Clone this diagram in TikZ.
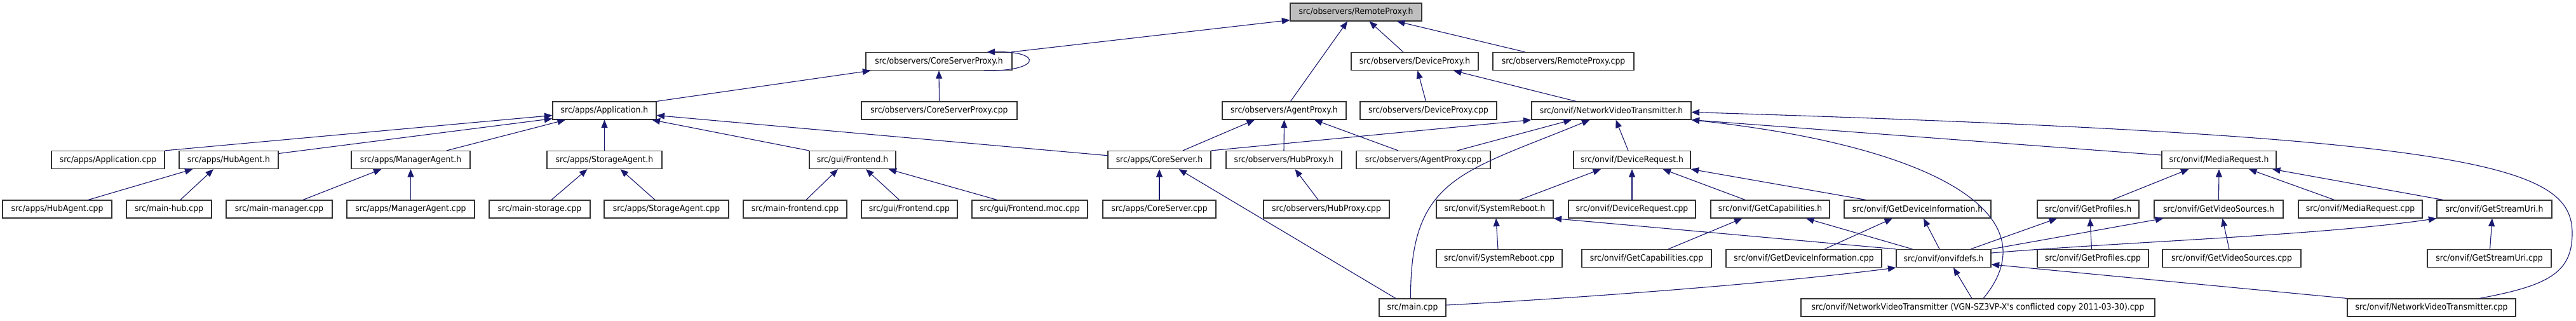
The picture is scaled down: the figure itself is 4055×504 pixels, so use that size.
\documentclass[tikz,border=0pt]{standalone}
\usepackage{fontspec}
\setmainfont{DejaVu Sans}[FakeStretch=0.92]
\usetikzlibrary{arrows.meta}
\definecolor{navy}{HTML}{191970}
\definecolor{boxgray}{HTML}{BFBFBF}
\begin{document}
\begin{tikzpicture}[x=1pt,y=1pt,
  box/.style={draw=black!80, line width=1.2pt, fill=white, minimum height=28pt, inner sep=0pt, font=\fontsize{13.5}{15}\selectfont},
  e/.style={draw=navy, line width=1.1pt, {Triangle[length=12.5pt,width=10pt]}-}]
\fill[white] (0,0) rectangle (4055,-504);
\useasboundingbox (0,0) rectangle (4055,-504);
% row 1
\node[box, fill=boxgray, minimum width=207pt] (remote) at (2134.5,-19) {src/observers/RemoteProxy.h};
% row 2
\node[box, minimum width=230pt] (csph) at (1478,-96.5) {src/observers/CoreServerProxy.h};
\node[box, minimum width=200pt] (devph) at (2227,-96.5) {src/observers/DeviceProxy.h};
\node[box, minimum width=222pt] (remcpp) at (2461,-96.5) {src/observers/RemoteProxy.cpp};
% row 3
\node[box, minimum width=163pt] (apph) at (951.5,-174) {src/apps/Application.h};
\node[box, minimum width=245pt] (cspcpp) at (1478.5,-174) {src/observers/CoreServerProxy.cpp};
\node[box, minimum width=195pt] (agph) at (2021.5,-174) {src/observers/AgentProxy.h};
\node[box, minimum width=215pt] (devpcpp) at (2248.5,-174) {src/observers/DeviceProxy.cpp};
\node[box, minimum width=251pt] (nvth) at (2536.5,-174) {src/onvif/NetworkVideoTransmitter.h};
% row 4
\node[box, minimum width=178pt] (appcpp) at (170,-251.5) {src/apps/Application.cpp};
\node[box, minimum width=156pt] (hubah) at (360,-251.5) {src/apps/HubAgent.h};
\node[box, minimum width=187pt] (mgrah) at (646.5,-251.5) {src/apps/ManagerAgent.h};
\node[box, minimum width=181pt] (stoah) at (951.5,-251.5) {src/apps/StorageAgent.h};
\node[box, minimum width=136pt] (feh) at (1342,-251.5) {src/gui/Frontend.h};
\node[box, minimum width=162pt] (csh) at (1825,-251.5) {src/apps/CoreServer.h};
\node[box, minimum width=182pt] (hubph) at (2021,-251.5) {src/observers/HubProxy.h};
\node[box, minimum width=211pt] (agpcpp) at (2240.5,-251.5) {src/observers/AgentProxy.cpp};
\node[box, minimum width=184pt] (devrh) at (2569,-251.5) {src/onvif/DeviceRequest.h};
\node[box, minimum width=180pt] (mediah) at (3493,-251.5) {src/onvif/MediaRequest.h};
% row 5
\node[box, minimum width=172pt] (hubacpp) at (90,-329) {src/apps/HubAgent.cpp};
\node[box, minimum width=134pt] (mainhub) at (266,-329) {src/main-hub.cpp};
\node[box, minimum width=167pt] (mainmgr) at (439.5,-329) {src/main-manager.cpp};
\node[box, minimum width=201pt] (mgracpp) at (646.5,-329) {src/apps/ManagerAgent.cpp};
\node[box, minimum width=159pt] (mainsto) at (849.5,-329) {src/main-storage.cpp};
\node[box, minimum width=196pt] (stoacpp) at (1049,-329) {src/apps/StorageAgent.cpp};
\node[box, minimum width=163pt] (mainfe) at (1251.5,-329) {src/main-frontend.cpp};
\node[box, minimum width=151pt] (fecpp) at (1431.5,-329) {src/gui/Frontend.cpp};
\node[box, minimum width=182pt] (femoc) at (1621,-329) {src/gui/Frontend.moc.cpp};
\node[box, minimum width=178pt] (cscpp) at (1825,-329) {src/apps/CoreServer.cpp};
\node[box, minimum width=198pt] (hubpcpp) at (2088,-329) {src/observers/HubProxy.cpp};
\node[box, minimum width=184pt] (sysrh) at (2353,-329) {src/onvif/SystemReboot.h};
\node[box, minimum width=200pt] (devrcpp) at (2569,-329) {src/onvif/DeviceRequest.cpp};
\node[box, minimum width=187pt] (getcaph) at (2786.5,-329) {src/onvif/GetCapabilities.h};
\node[box, minimum width=231pt] (getdih) at (3018.5,-329) {src/onvif/GetDeviceInformation.h};
\node[box, minimum width=160pt] (getprofh) at (3287,-329) {src/onvif/GetProfiles.h};
\node[box, minimum width=203pt] (getvsh) at (3492.5,-329) {src/onvif/GetVideoSources.h};
\node[box, minimum width=195pt] (mediacpp) at (3715.5,-329) {src/onvif/MediaRequest.cpp};
\node[box, minimum width=181pt] (getsuh) at (3926.5,-329) {src/onvif/GetStreamUri.h};
% row 6
\node[box, minimum width=198pt] (sysrcpp) at (2360,-406.5) {src/onvif/SystemReboot.cpp};
\node[box, minimum width=204pt] (getcapcpp) at (2592,-406.5) {src/onvif/GetCapabilities.cpp};
\node[box, minimum width=245pt] (getdicpp) at (2839.5,-406.5) {src/onvif/GetDeviceInformation.cpp};
\node[box, minimum width=149pt] (onvifdefs) at (3059.5,-406.5) {src/onvif/onvifdefs.h};
\node[box, minimum width=175pt] (getprofcpp) at (3294.5,-406.5) {src/onvif/GetProfiles.cpp};
\node[box, minimum width=218pt] (getvscpp) at (3513,-406.5) {src/onvif/GetVideoSources.cpp};
\node[box, minimum width=195pt] (getsucpp) at (3918.5,-406.5) {src/onvif/GetStreamUri.cpp};
% row 7
\node[box, minimum width=105pt] (maincpp) at (2223.5,-484) {src/main.cpp};
\node[box, minimum width=557pt] (nvtconf) at (3113.5,-484) {src/onvif/NetworkVideoTransmitter (VGN-SZ3VP-X\textquotesingle s conflicted copy 2011-03-30).cpp};
\node[box, minimum width=265pt] (nvtcpp) at (3827.5,-484) {src/onvif/NetworkVideoTransmitter.cpp};
\coordinate (bend) at (4049,-367);
% edges
\draw[e] ([yshift=2pt]remote.south west) -- ([xshift=-2pt]csph.north east);
\draw[e] ([xshift=-13.5pt]remote.south) -- ([xshift=10pt]agph.north);
\draw[e] ([xshift=21pt]remote.south) -- ([xshift=-18pt]devph.north);
\draw[e] ([xshift=64.5pt]remote.south) -- ([xshift=-60pt]remcpp.north);
\draw[e] ([xshift=-40pt]csph.north east) .. controls +(90pt,2pt) and +(90pt,-2pt) .. ([xshift=-45pt]csph.south east);
\draw[e] ([xshift=8pt]csph.south west) -- (apph.north east);
\draw[e] (csph.south) -- (cspcpp.north);
\draw[e] ([yshift=-7.5pt]apph.west) -- (appcpp.north east);
\draw[e] ([yshift=2pt]apph.south west) -- ([yshift=10pt]hubah.east);
\draw[e] ([xshift=-61.5pt]apph.south) -- ([xshift=56.5pt]mgrah.north);
\draw[e] (apph.south) -- (stoah.north);
\draw[e] ([xshift=75pt]apph.south) -- (feh.north west);
\draw[e] ([yshift=-7.5pt]apph.east) -- ([yshift=6.8pt]csh.west);
\draw[e] ([xshift=-46.5pt]agph.south) -- ([xshift=37pt]csh.north);
\draw[e] (nvth.south west) -- (csh.north east);
\draw[e] (agph.south) -- (hubph.north);
\draw[e] ([xshift=47.5pt]agph.south) -- ([xshift=-39.5pt]agpcpp.north);
\draw[e] ([xshift=-62.5pt]nvth.south) -- ([xshift=53.5pt]agpcpp.north);
\draw[e] ([xshift=-34pt]nvth.south) .. controls +(-202pt,-83pt) and +(-1pt,190pt) .. ([xshift=-3pt]maincpp.north);
\draw[e] ([xshift=7pt]nvth.south) -- ([xshift=-6pt]devrh.north);
\draw[e] ([yshift=-2.5pt]nvth.east) .. controls +(1238pt,-38pt) and +(0pt,107pt) .. (bend) .. controls +(0pt,-63pt) and +(107pt,20pt) .. ([xshift=75.5pt]nvtcpp.north);
\draw[e] (nvth.south east) -- ([yshift=7.5pt]mediah.west);
\draw[e] (nvth.south east) .. controls +(388pt,-42pt) and +(108pt,130pt) .. ([xshift=8.5pt]nvtconf.north);
\draw[e] ([xshift=4.5pt]devph.south) -- ([xshift=-4pt]devpcpp.north);
\draw[e] ([xshift=61pt]devph.south) -- ([xshift=-55.5pt]nvth.north);
\draw[e] ([xshift=-49pt]devrh.south) -- ([xshift=39pt]sysrh.north);
\draw[e] (devrh.south) -- (devrcpp.north);
\draw[e] ([xshift=48.5pt]devrh.south) -- ([xshift=-39.5pt]getcaph.north);
\draw[e] (devrh.south east) -- ([xshift=-81.5pt]getdih.north);
\draw[e] ([xshift=-47.5pt]mediah.south) -- ([xshift=38pt]getprofh.north);
\draw[e] (mediah.south) -- (getvsh.north);
\draw[e] ([xshift=47pt]mediah.south) -- ([xshift=-41pt]mediacpp.north);
\draw[e] ([xshift=84pt]mediah.south) -- ([xshift=-81pt]getsuh.north);
\draw[e] ([xshift=2pt]sysrh.south) -- ([xshift=-2pt]sysrcpp.north);
\draw[e] (sysrh.south east) -- (onvifdefs.north west);
\draw[e] ([xshift=-44pt]getcaph.south) -- ([xshift=34pt]getcapcpp.north);
\draw[e] ([xshift=56.5pt]getcaph.south) -- ([xshift=-49pt]onvifdefs.north);
\draw[e] ([xshift=-39.5pt]getdih.south) -- ([xshift=32.5pt]getdicpp.north);
\draw[e] ([xshift=9.5pt]getdih.south) -- ([xshift=-6.5pt]onvifdefs.north);
\draw[e] ([xshift=-49pt]getprofh.south) -- ([xshift=42.5pt]onvifdefs.north);
\draw[e] ([xshift=3pt]getprofh.south) -- ([xshift=-2pt]getprofcpp.north);
\draw[e] ([xshift=15pt]getvsh.south west) -- (onvifdefs.north east);
\draw[e] (getsuh.south west) .. controls +(-184pt,-27pt) and +(215pt,18pt) .. ([yshift=8.5pt]onvifdefs.east);
\draw[e] ([xshift=6pt]getvsh.south) -- ([xshift=-4pt]getvscpp.north);
\draw[e] ([xshift=-3.5pt]getsuh.south) -- ([xshift=1pt]getsucpp.north);
\draw[e] (onvifdefs.south west) .. controls +(-186pt,-24pt) and +(224pt,12pt) .. ([yshift=4pt]maincpp.east);
\draw[e] ([xshift=15.5pt]onvifdefs.south) -- ([xshift=-9.5pt]nvtconf.north);
\draw[e] ([yshift=-9.5pt]onvifdefs.east) -- (nvtcpp.north west);
\draw[e] (csh.south) -- (cscpp.north);
\draw[e] ([xshift=30.5pt]csh.south) -- ([xshift=-26.5pt]maincpp.north);
\draw[e] ([xshift=17.5pt]hubph.south) -- ([xshift=-13pt]hubpcpp.north);
\draw[e] ([xshift=-27pt]stoah.south) -- ([xshift=18.5pt]mainsto.north);
\draw[e] ([xshift=25pt]stoah.south) -- ([xshift=-18pt]stoacpp.north);
\draw[e] ([xshift=-46pt]mgrah.south) -- ([xshift=37.5pt]mainmgr.north);
\draw[e] (mgrah.south) -- (mgracpp.north);
\draw[e] ([xshift=-56.5pt]hubah.south) -- ([xshift=49pt]hubacpp.north);
\draw[e] ([xshift=-24pt]hubah.south) -- ([xshift=18pt]mainhub.north);
\draw[e] ([xshift=-23pt]feh.south) -- ([xshift=17.5pt]mainfe.north);
\draw[e] ([xshift=21pt]feh.south) -- ([xshift=-16pt]fecpp.north);
\draw[e] ([xshift=-12pt]feh.south east) -- ([xshift=-51.6pt]femoc.north);
\end{tikzpicture}
\end{document}
